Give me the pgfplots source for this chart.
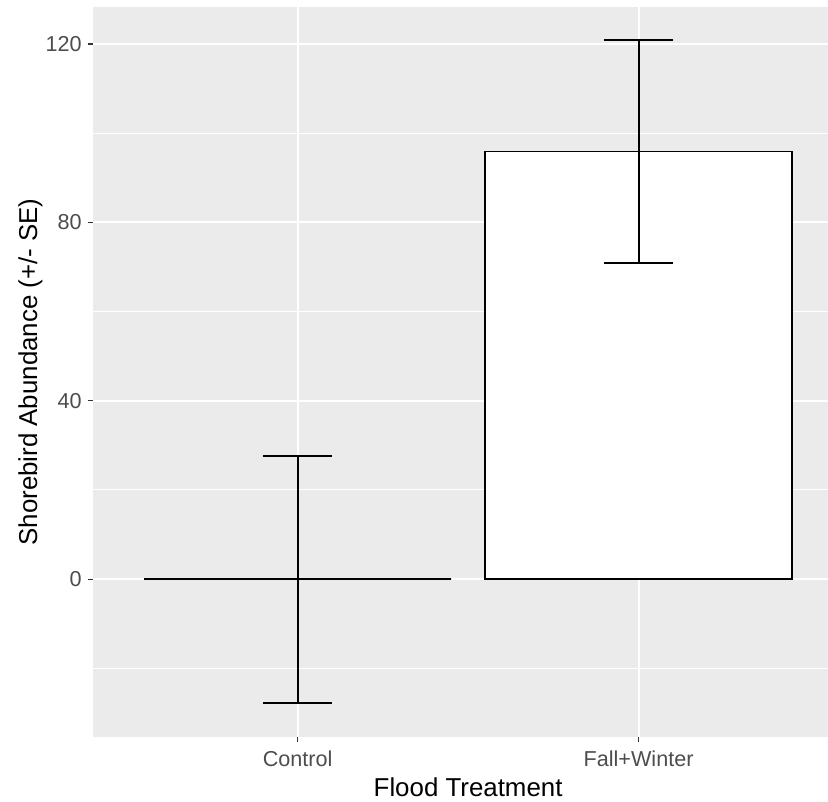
\documentclass[border=0pt]{standalone}
\usepackage{pgfplots}
\pgfplotsset{compat=1.18}
\usepackage{fontspec}
\setmainfont{Liberation Sans}
\definecolor{panelbg}{HTML}{EBEBEB}
\definecolor{ticktext}{HTML}{4D4D4D}
\definecolor{tickmark}{HTML}{333333}
\begin{document}
\begin{tikzpicture}
\begin{axis}[
  name=ax,
  scale only axis,
  width=562.65pt, height=547.5pt,
  xmin=0.4, xmax=2.6, ymin=-35.4, ymax=128.3,
  axis background/.style={fill=panelbg},
  axis line style={draw=none},
  xtick={1,2}, xticklabels={Control, Fall+Winter},
  ytick={0,40,80,120}, yticklabels={0,40,80,120},
  minor ytick={-20,20,60,100},
  grid=both,
  major grid style={white, line width=1.4pt},
  minor grid style={white, line width=0.7pt},
  tick align=outside,
  major tick length=3.8pt,
  minor tick length=0pt,
  xtick pos=bottom, ytick pos=left,
  tick style={tickmark, line width=0.9pt},
  ticklabel style={font=\fontsize{16.2}{19}\selectfont, text=ticktext},
  yticklabel style={anchor=east, inner sep=0pt, xshift=-4.5pt},
  xticklabel style={anchor=base, inner sep=0pt, yshift=-18.5pt},
  label style={font=\fontsize{19.4}{23}\selectfont, text=black},
  xlabel={Flood Treatment},
  ylabel={Shorebird Abundance (+/- SE)},
  xlabel style={at={(axis description cs:0.5,0)}, anchor=base, inner sep=0pt, yshift=-45pt},
  ylabel style={at={(axis description cs:0,0.5)}, anchor=center, inner sep=0pt, yshift=46.9pt},
]
\addplot[ybar, bar width=0.9, fill=white, draw=black, line width=1.1pt,
  error bars/.cd, y dir=both, y explicit, error mark=|,
  error bar style={draw=black, line width=1.5pt},
  error mark options={draw=black, line width=1.5pt, mark size=25.6pt}]
  coordinates {(1,0) +- (0,27.7) (2,95.85) +- (0,25.05)};
\end{axis}
\pgfresetboundingbox
\path[use as bounding box] ([xshift=-69.75pt,yshift=-48.75pt]ax.south west) rectangle ([xshift=551.25pt,yshift=5.25pt]ax.north west);
\end{tikzpicture}
\end{document}
